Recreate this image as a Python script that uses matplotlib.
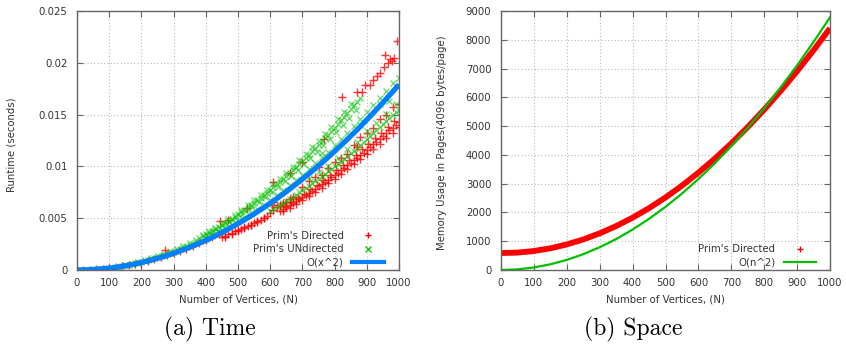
import numpy as np
import matplotlib
matplotlib.use("Agg")
import matplotlib.pyplot as plt
from matplotlib.lines import Line2D

# ---------------- data: (a) Time ----------------
# O(x^2) reference curve
fit_x = [0, 25, 50, 75, 100, 125, 150, 175, 200, 225, 250, 275, 300, 325, 350, 375, 400,
         425, 450, 475, 500, 525, 550, 575, 600, 625, 650, 675, 700, 725, 750, 775, 800,
         825, 850, 875, 900, 925, 950, 975, 1000]
fit_y = [0, 0.00001, 0.00004, 0.00010, 0.00018, 0.00028, 0.00040, 0.00055, 0.00072, 0.00091,
         0.00112, 0.00135, 0.00161, 0.00189, 0.00219, 0.00252, 0.00286, 0.00323, 0.00362,
         0.00404, 0.00448, 0.00493, 0.00541, 0.00592, 0.00644, 0.00699, 0.00756, 0.00816,
         0.00877, 0.00941, 0.01007, 0.01075, 0.01146, 0.01218, 0.01293, 0.01370, 0.01450,
         0.01532, 0.01615, 0.01702, 0.0179]

# Prim's Directed (red +), read band by band
dir_track_x = [0, 20, 40, 60, 80, 100, 120, 140, 160, 180, 200, 220, 240, 260, 280, 300,
               320, 340, 360, 380, 400, 420, 440]
dir_track_y = [0, 0.00001, 0.00003, 0.00006, 0.00011, 0.00018, 0.00026, 0.00035, 0.00046,
               0.00058, 0.00072, 0.00087, 0.00103, 0.00121, 0.0014, 0.00161, 0.00183,
               0.00207, 0.00232, 0.00258, 0.00286, 0.00316, 0.00347]
dir_mid1_x = [450, 460, 470, 480, 490, 500, 510, 520, 530, 540, 550, 560, 570, 580, 590,
              600, 605, 610, 612, 620, 630, 640, 650, 660, 670]
dir_mid1_y = [0.00319, 0.00333, 0.00344, 0.00359, 0.00372, 0.00385, 0.00398, 0.00411,
              0.00422, 0.00436, 0.00450, 0.00466, 0.00482, 0.00500, 0.00523, 0.00548,
              0.0063, 0.00580, 0.0066, 0.00610, 0.00625, 0.00645, 0.00660, 0.00686, 0.00705]
dir_mid2_x = [460, 480, 500, 520, 540, 560, 580]
dir_mid2_y = [0.00318, 0.00346, 0.00376, 0.00407, 0.00438, 0.00471, 0.00506]
dir_low_x = [630, 640, 650, 660, 670, 680, 690, 700, 710, 720, 730, 740, 750, 760, 770,
             780, 790, 800, 810, 820, 830, 840, 850, 860, 870, 880, 890, 900, 910, 920,
             930, 940, 950, 960, 970, 980, 990, 1000]
dir_low_y = [0.00568, 0.00587, 0.00605, 0.00624, 0.00643, 0.00662, 0.00682, 0.00702,
             0.00722, 0.00742, 0.00763, 0.00784, 0.00806, 0.00827, 0.00849, 0.00871,
             0.00894, 0.00916, 0.00940, 0.00963, 0.00986, 0.01010, 0.01035, 0.01059,
             0.01084, 0.01109, 0.01134, 0.01160, 0.01186, 0.01212, 0.01239, 0.01265,
             0.01292, 0.01320, 0.01347, 0.01375, 0.01404, 0.01432]
dir_low2_x = [645, 665, 685, 705, 725, 745, 765, 785, 805, 825, 845, 865, 885, 905, 925,
              945, 965, 985]
dir_low2_y = [0.00618, 0.00657, 0.00697, 0.00738, 0.00781, 0.00825, 0.00870, 0.00915,
              0.00963, 0.01011, 0.01061, 0.01112, 0.01164, 0.01217, 0.01271, 0.01327,
              0.01384, 0.01441]
dir_low3_x = [640, 660, 680, 700, 720, 740, 760, 780, 800, 820, 840, 860, 880, 900, 920,
              940, 960, 980, 1000]
dir_low3_y = [0.00565, 0.00600, 0.00637, 0.00675, 0.00714, 0.00755, 0.00796, 0.00839,
              0.00882, 0.00927, 0.00973, 0.01019, 0.01067, 0.01116, 0.01167, 0.01218,
              0.01270, 0.01324, 0.01378]
dir_between_x = [700, 720, 740, 750, 760, 780, 800, 820, 840, 860, 870, 880, 900, 920,
                 940, 960, 980, 1000]
dir_between_y = [0.0080, 0.0086, 0.0090, 0.0099, 0.0092, 0.0098, 0.0104, 0.0108, 0.0112,
                 0.0121, 0.0119, 0.0128, 0.0132, 0.0137, 0.0146, 0.0150, 0.0157, 0.0160]
dir_high_x = [274, 444, 470, 527, 610, 660, 700, 766, 822, 869, 885, 895, 910, 920, 931,
              941, 952, 956, 967, 972, 977, 985, 993]
dir_high_y = [0.0019, 0.0047, 0.0048, 0.0060, 0.0085, 0.0094, 0.0104, 0.0126, 0.0167,
              0.0172, 0.0172, 0.0179, 0.0179, 0.0183, 0.0187, 0.0190, 0.0196, 0.02075,
              0.0200, 0.0204, 0.0202, 0.0205, 0.0221]

# Prim's UNdirected (green x)
und_track_x = [0, 10, 20, 30, 40, 50, 60, 70, 80, 90, 100, 110, 120, 130, 140, 150, 160,
               170, 180, 190, 200, 210, 220, 230, 240, 250, 260, 270, 280, 290, 300, 310,
               320, 330, 340, 350, 360, 370]
und_track_y = [0.0, 0.0, 0.00001, 0.00002, 0.00003, 0.00005, 0.00007, 0.0001, 0.00013,
               0.00016, 0.0002, 0.00024, 0.00028, 0.00033, 0.00039, 0.00044, 0.0005,
               0.00057, 0.00064, 0.00071, 0.00079, 0.00087, 0.00095, 0.00104, 0.00113,
               0.00123, 0.00133, 0.00144, 0.00154, 0.00166, 0.00177, 0.00189, 0.00202,
               0.00214, 0.00228, 0.00241, 0.00255, 0.0027]
und_cloud_x = [150, 170, 190, 210, 230, 250, 270, 290, 310, 330, 350, 370]
und_cloud_y = [0.00048, 0.00062, 0.00078, 0.00095, 0.00114, 0.00134, 0.00157, 0.00181,
               0.00206, 0.00234, 0.00263, 0.00294]
und_upper_x = [380, 390, 400, 410, 420, 430, 440, 450, 460, 470, 480, 490, 500, 510, 520,
               530, 540, 550, 560, 570, 580, 590, 600, 610, 620, 630, 640, 650, 660, 670,
               680, 690, 700, 710, 720, 730, 740, 750, 760, 770, 780, 790, 800, 810, 820,
               830, 840, 850, 860, 870, 880]
und_upper_y = [0.00310, 0.00327, 0.00344, 0.00361, 0.00379, 0.00397, 0.00416, 0.00435,
               0.00455, 0.00474, 0.00495, 0.00516, 0.00537, 0.00559, 0.00581, 0.00603,
               0.00626, 0.00650, 0.00674, 0.00698, 0.00723, 0.00748, 0.00773, 0.00799,
               0.00826, 0.00853, 0.00880, 0.00908, 0.00936, 0.00964, 0.00993, 0.01023,
               0.01053, 0.01083, 0.01113, 0.01145, 0.01176, 0.01208, 0.01241, 0.01274,
               0.01307, 0.01341, 0.01375, 0.01409, 0.01444, 0.01480, 0.01516, 0.01552,
               0.01589, 0.01626, 0.01663]
und_upper2_x = [405, 425, 445, 465, 485, 505, 525, 545, 565, 585, 605, 625, 645, 665, 685,
                705, 725, 745, 765, 785, 805, 825, 845, 865]
und_upper2_y = [0.00338, 0.00372, 0.00408, 0.00445, 0.00484, 0.00525, 0.00567, 0.00611,
                0.00657, 0.00704, 0.00753, 0.00804, 0.00856, 0.00910, 0.00966, 0.01023,
                0.01082, 0.01143, 0.01205, 0.01268, 0.01334, 0.01401, 0.01470, 0.01540]
und_upper3_x = [390, 410, 430, 450, 470, 490, 510, 530, 550, 570, 590, 610, 630, 650, 670,
                690, 710, 730, 750, 770, 790, 810, 830, 850]
und_upper3_y = [0.00338, 0.00373, 0.00410, 0.00450, 0.00490, 0.00533, 0.00577, 0.00623,
                0.00671, 0.00721, 0.00773, 0.00826, 0.00881, 0.00938, 0.00996, 0.01057,
                0.01119, 0.01183, 0.01249, 0.01316, 0.01385, 0.01456, 0.01529, 0.01604]
und_near_x = [400, 420, 440, 460, 480, 500, 520, 540, 560, 580, 600, 620, 640, 660, 680,
              700, 720, 740, 760, 780, 800, 820, 840, 860, 880, 900, 920, 940, 960, 980, 1000]
und_near_y = [0.00301, 0.00332, 0.00364, 0.00398, 0.00433, 0.00470, 0.00508, 0.00548,
              0.00589, 0.00632, 0.00677, 0.00723, 0.00770, 0.00819, 0.00869, 0.00921,
              0.00974, 0.01029, 0.01086, 0.01143, 0.01203, 0.01264, 0.01326, 0.01390,
              0.01456, 0.01522, 0.01591, 0.01661, 0.01732, 0.01805, 0.01850]
und_lower_x = [600, 610, 620, 630, 640, 650, 660, 670, 680, 690, 700, 710, 720, 730, 740,
               750, 760, 770, 780, 790, 800, 810, 820, 830, 840, 850, 860, 870, 880, 890,
               900, 910, 920, 930, 940, 950, 960, 970, 980, 990, 1000]
und_lower_y = [0.00567, 0.00586, 0.00606, 0.00625, 0.00645, 0.00666, 0.00686, 0.00707,
               0.00728, 0.00750, 0.00772, 0.00794, 0.00812, 0.00835, 0.00858, 0.00881,
               0.00905, 0.00929, 0.00953, 0.00977, 0.01002, 0.01022, 0.01047, 0.01073,
               0.01099, 0.01125, 0.01152, 0.01179, 0.01206, 0.01234, 0.01261, 0.01290,
               0.01318, 0.01347, 0.01376, 0.01405, 0.01435, 0.01465, 0.01496, 0.01526,
               0.01540]
und_scatter_x = [720, 750, 760, 780, 810, 840, 870, 880, 900, 930, 940, 960, 970, 990]
und_scatter_y = [0.0089, 0.0095, 0.0113, 0.0100, 0.0108, 0.0117, 0.0124, 0.0140, 0.0134,
                 0.0142, 0.0160, 0.0151, 0.0163, 0.0160]

time_yticks = [0, 0.005, 0.01, 0.015, 0.02, 0.025]
time_yticklabels = ["0", "0.005", "0.01", "0.015", "0.02", "0.025"]
xticks = [0, 100, 200, 300, 400, 500, 600, 700, 800, 900, 1000]

# ---------------- data: (b) Space ----------------
mem_x = [0, 50, 100, 150, 200, 250, 300, 350, 400, 450, 500, 550, 600, 650, 700, 750,
         800, 850, 900, 950, 1000]
mem_directed = [590, 605, 660, 754, 888, 1061, 1274, 1527, 1818, 2150, 2520, 2931, 3381,
                3870, 4399, 4967, 5575, 6222, 6909, 7635, 8401]
mem_fit = [0, 22, 88, 198, 351, 549, 790, 1076, 1405, 1778, 2195, 2656, 3161, 3710, 4302,
           4939, 5619, 6344, 7112, 7924, 8780]
space_yticks = [0, 1000, 2000, 3000, 4000, 5000, 6000, 7000, 8000, 9000]

# ---------------- styling ----------------
RED = "#ff0000"
GREEN = "#00c000"
BLUE = "#0080ff"
TXT = "#333333"
FS = 7.3

plt.rcParams["font.family"] = ["DejaVu Sans"]
plt.rcParams["font.size"] = FS

fig = plt.figure(figsize=(8.46, 3.46), dpi=100)
axL = fig.add_axes([77 / 846, 1 - 270 / 346, 322 / 846, 259 / 346])
axR = fig.add_axes([501 / 846, 1 - 270 / 346, 329 / 846, 259 / 346])


def style(ax):
    ax.grid(True, color="#bbbbbb", linestyle=(0, (1, 2)), linewidth=0.8)
    ax.set_axisbelow(True)
    for s in ax.spines.values():
        s.set_color("#666666")
        s.set_linewidth(1.0)
    ax.tick_params(direction="in", top=True, right=True, length=4, width=0.8,
                   color="#666666", labelcolor=TXT, labelsize=FS)
    ax.tick_params(axis="y", pad=7)
    ax.tick_params(axis="x", pad=6)


# ---- left ----
dx = np.concatenate([dir_track_x, dir_mid1_x, dir_mid2_x, dir_low_x, dir_low2_x,
                     dir_low3_x, dir_between_x, dir_high_x])
dy = np.concatenate([dir_track_y, dir_mid1_y, dir_mid2_y, dir_low_y, dir_low2_y,
                     dir_low3_y, dir_between_y, dir_high_y])
ux = np.concatenate([und_track_x, und_cloud_x, und_upper_x, und_upper2_x, und_upper3_x,
                     und_near_x, und_lower_x, und_scatter_x])
uy = np.concatenate([und_track_y, und_cloud_y, und_upper_y, und_upper2_y, und_upper3_y,
                     und_near_y, und_lower_y, und_scatter_y])

axL.plot(dx, dy, linestyle="none", marker="+", color=RED, ms=5.5, mew=1.0, alpha=0.8,
         label="Prim's Directed")
axL.plot(ux, uy, linestyle="none", marker="x", color=GREEN, ms=4.3, mew=0.9, alpha=0.6,
         label="Prim's UNdirected")
axL.plot(fit_x, fit_y, color=BLUE, lw=3.8, solid_capstyle="butt", label="O(x^2)")
axL.set_xlim(0, 1000)
axL.set_ylim(0, 0.025)
axL.set_xticks(xticks)
axL.set_yticks(time_yticks)
axL.set_yticklabels(time_yticklabels)
style(axL)
axL.set_xlabel("Number of Vertices, (N)", color=TXT, fontsize=FS)
axL.set_ylabel("Runtime (seconds)", color=TXT, fontsize=FS)
axL.xaxis.set_label_coords(0.5, -0.093)
axL.yaxis.set_label_coords(-0.188, 0.485)

hL = [Line2D([], [], linestyle="none", marker="+", color=RED, ms=5, mew=1.0),
      Line2D([], [], linestyle="none", marker="x", color=GREEN, ms=4, mew=0.9),
      Line2D([], [], color=BLUE, lw=3.0)]
legL = axL.legend(hL, ["Prim's Directed", "Prim's UNdirected", "O(x^2)"],
                  loc="lower right", bbox_to_anchor=(0.976, -0.019), frameon=False,
                  markerfirst=False, fontsize=FS, handlelength=3.2, handletextpad=0.8,
                  labelspacing=0.35, borderaxespad=0.3)
for t in legL.get_texts():
    t.set_color(TXT)

# ---- right ----
axR.plot(mem_x, mem_directed, color=RED, lw=4.2, solid_capstyle="butt")
axR.plot(mem_x, mem_fit, color=GREEN, lw=1.6)
axR.set_xlim(0, 1000)
axR.set_ylim(0, 9000)
axR.set_xticks(xticks)
axR.set_yticks(space_yticks)
style(axR)
axR.set_xlabel("Number of Vertices, (N)", color=TXT, fontsize=FS)
axR.set_ylabel("Memory Usage in Pages(4096 bytes/page)", color=TXT, fontsize=FS)
axR.xaxis.set_label_coords(0.5, -0.093)
axR.yaxis.set_label_coords(-0.164, 0.49)

hR = [Line2D([], [], linestyle="none", marker="+", color=RED, ms=4, mew=1.0),
      Line2D([], [], color=GREEN, lw=1.6)]
legR = axR.legend(hR, ["Prim's Directed", "O(n^2)"], loc="lower right",
                  bbox_to_anchor=(0.979, -0.019), frameon=False, markerfirst=False,
                  fontsize=FS, handlelength=3.2, handletextpad=0.8, labelspacing=0.35,
                  borderaxespad=0.3)
for t in legR.get_texts():
    t.set_color(TXT)

# ---- captions ----
fig.text(210 / 846, 1 - 329 / 346, "(a) Time", ha="center", va="center",
         family="cmr10", fontsize=17, color="black")
fig.text(633 / 846, 1 - 329 / 346, "(b) Space", ha="center", va="center",
         family="cmr10", fontsize=17, color="black")

fig.savefig("out.png", dpi=100)
